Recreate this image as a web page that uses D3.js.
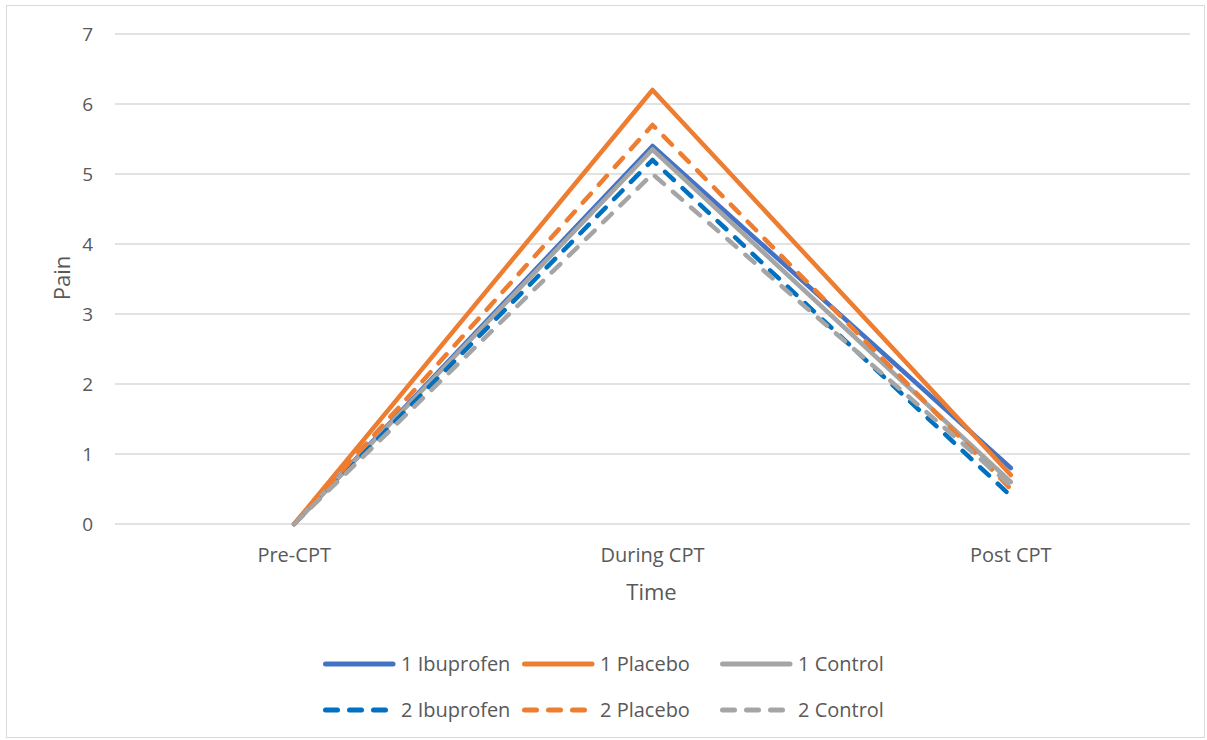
<!DOCTYPE html>
<html lang="en">
<head>
<meta charset="UTF-8" />
<script src="https://d3js.org/d3.v7.min.js"></script>
<style>
  body { margin: 0; background: #fff; }
  text { font-family: "Open Sans", "Liberation Sans", sans-serif; fill: #595959; }
</style>
</head>
<body>
<svg id="chart"></svg>
<script>
// data
const times = ["Pre-CPT", "During CPT", "Post CPT"];
const seriesNames = ["1 Ibuprofen", "1 Placebo", "1 Control", "2 Ibuprofen", "2 Placebo", "2 Control"];
const ibuprofen1 = [0, 5.4, 0.8];
const placebo1 = [0, 6.2, 0.7];
const control1 = [0, 5.35, 0.6];
const ibuprofen2 = [0, 5.2, 0.4];
const placebo2 = [0, 5.7, 0.5];
const control2 = [0, 5.0, 0.55];
const yTicks = [0, 1, 2, 3, 4, 5, 6, 7];

const seriesValues = [ibuprofen1, placebo1, control1, ibuprofen2, placebo2, control2];
const colors = ["#4472C4", "#ED7D31", "#A5A5A5", "#0070C0", "#ED7D31", "#A5A5A5"];
const dashed = [false, false, false, true, true, true];

const W = 1207, H = 740;
const margin = { top: 34, right: 17, bottom: 216, left: 115 };

const svg = d3.select("#chart").attr("width", W).attr("height", H);

// outer border
svg.append("rect")
    .attr("x", 6.5).attr("y", 5.5)
    .attr("width", W - 9).attr("height", H - 8)
    .attr("fill", "none").attr("stroke", "#D9D9D9").attr("stroke-width", 1);

const x = d3.scaleBand()
    .domain(times)
    .range([margin.left, W - margin.right]);

const y = d3.scaleLinear()
    .domain([0, 7])
    .range([H - margin.bottom, margin.top]);

// gridlines
svg.append("g")
    .selectAll("line")
    .data(yTicks)
    .enter()
    .append("line")
    .attr("x1", margin.left).attr("x2", W - margin.right)
    .attr("y1", d => y(d)).attr("y2", d => y(d))
    .attr("stroke", "#D9D9D9").attr("stroke-width", 1.5);

// y tick labels
svg.append("g")
    .selectAll("text")
    .data(yTicks)
    .enter()
    .append("text")
    .attr("x", 93).attr("y", d => y(d))
    .attr("dy", "0.35em")
    .attr("text-anchor", "end")
    .style("font-size", "19px")
    .text(d => d);

// x tick labels
svg.append("g")
    .selectAll("text")
    .data(times)
    .enter()
    .append("text")
    .attr("x", d => x(d) + x.bandwidth() / 2)
    .attr("y", 562)
    .attr("text-anchor", "middle")
    .style("font-size", "20px")
    .text(d => d);

// axis titles
svg.append("text")
    .attr("x", (margin.left + W - margin.right) / 2 - 1)
    .attr("y", 600)
    .attr("text-anchor", "middle")
    .style("font-size", "22px")
    .text("Time");

svg.append("text")
    .attr("transform", "translate(70, 278) rotate(-90)")
    .attr("text-anchor", "middle")
    .style("font-size", "22px")
    .text("Pain");

// lines
const line = d3.line()
    .x((d, i) => x(times[i]) + x.bandwidth() / 2)
    .y(d => y(d));

svg.append("g")
    .selectAll("path")
    .data(seriesValues)
    .enter()
    .append("path")
    .attr("d", d => line(d))
    .attr("fill", "none")
    .attr("stroke", (d, i) => colors[i])
    .attr("stroke-width", 4.5)
    .attr("stroke-linejoin", "round")
    .attr("stroke-linecap", "round")
    .attr("stroke-dasharray", (d, i) => dashed[i] ? "12,12" : null);

// legend
const legendCols = [323, 522, 720];
const legendRows = [664, 710];
const legend = svg.append("g")
    .selectAll("g")
    .data(seriesNames)
    .enter()
    .append("g")
    .attr("transform", (d, i) => `translate(${legendCols[i % 3]}, ${legendRows[Math.floor(i / 3)]})`);

legend.append("line")
    .attr("x1", 2.5).attr("x2", (d, i) => dashed[i] ? 66 : 70)
    .attr("y1", 0).attr("y2", 0)
    .attr("stroke", (d, i) => colors[i])
    .attr("stroke-width", 5)
    .attr("stroke-linecap", "round")
    .attr("stroke-dasharray", (d, i) => dashed[i] ? "12,12" : null);

legend.append("text")
    .attr("x", 78)
    .attr("y", 0)
    .attr("dy", "0.35em")
    .style("font-size", "20px")
    .text(d => d);
</script>
</body>
</html>
